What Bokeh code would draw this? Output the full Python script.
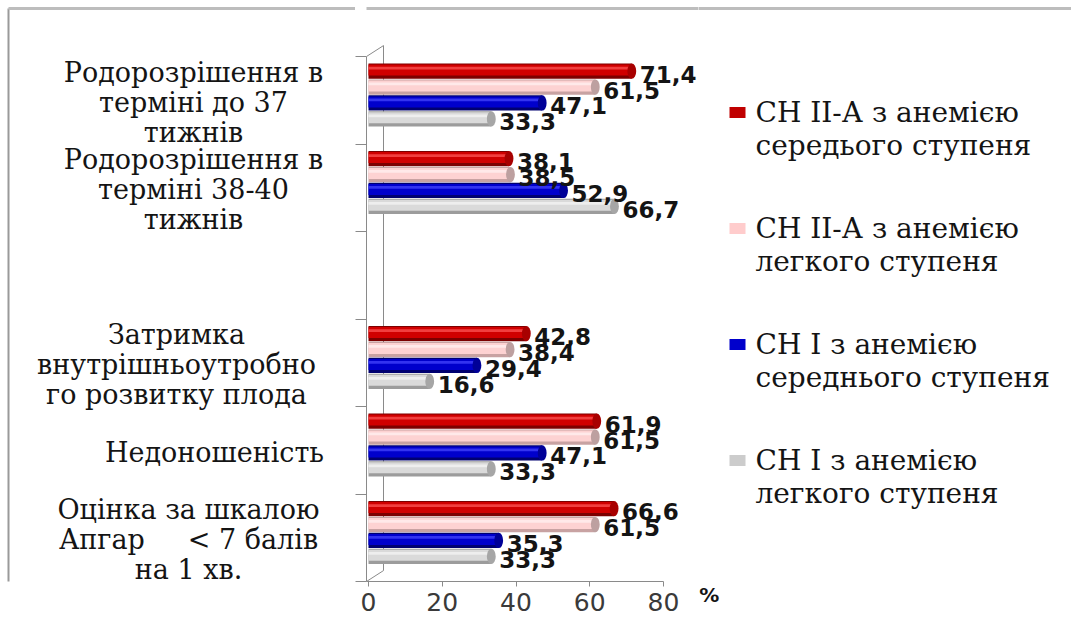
from bokeh.plotting import figure
from bokeh.layouts import row
from bokeh.models import Range1d, LinearAxis, FixedTicker, ColumnDataSource
from bokeh.embed import file_html
from bokeh.resources import INLINE
from bokeh.core.properties import value

# ---- data -------------------------------------------------------------
NBSP = "\u00a0"
categories = [
    "Родорозрішення в\nтерміні до 37\nтижнів",
    "Родорозрішення в\nтерміні 38-40\nтижнів",
    "",
    "Затримка\nвнутрішньоутробно\nго розвитку плода",
    "Недоношеність",
    "Оцінка за шкалою\nАпгар" + NBSP * 5 + "< 7 балів\nна 1 хв.",
]
series_names = [
    "СН ІІ-А з анемією\nсередього ступеня",
    "СН ІІ-А з анемією\nлегкого ступеня",
    "СН І з анемією\nсереднього ступеня",
    "СН І з анемією\nлегкого ступеня",
]
sn2a_moderate = [71.4, 38.1, None, 42.8, 61.9, 66.6]
sn2a_mild = [61.5, 38.5, None, 38.4, 61.5, 61.5]
sn1_moderate = [47.1, 52.9, None, 29.4, 47.1, 35.3]
sn1_mild = [33.3, 66.7, None, 16.6, 33.3, 33.3]
x_ticks = [0, 20, 40, 60, 80]
axis_unit = "%"

series = [sn2a_moderate, sn2a_mild, sn1_moderate, sn1_mild]

# ---- styling / layout --------------------------------------------------
palette = [
    dict(base="#7c0000", body="#d00000", light="#ff5a5a", cap="#a80000", swatch="#c00000"),
    dict(base="#c8a2a2", body="#fdd2d2", light="#fff2f2", cap="#bda0a0", swatch="#ffcccc"),
    dict(base="#000070", body="#0000cc", light="#4848ff", cap="#000098", swatch="#0000cc"),
    dict(base="#9c9c9c", body="#dadada", light="#f6f6f6", cap="#a6a6a6", swatch="#cccccc"),
]
W, H = 1071, 639
ZERO_PX = 368          # pixel column of 0 %
BASE_PX = 581          # pixel row of the category axis base
PX_X = 3.6875          # pixels per percent
PX_Y = 87.5            # pixels per category band
LEFT_W = 355           # width of the category-label panel
AXIS_PX = 366          # pixel column of the value-axis line
SPLIT_PX = 698         # where the chart panel ends and the legend panel starts
BOTTOM = H - BASE_PX
n_cat = len(categories)


def ux(px):
    """canvas pixel column -> percent units"""
    return (px - ZERO_PX) / PX_X


def uy(py):
    """canvas pixel row -> band units"""
    return (BASE_PX - py) / PX_Y


TXT = "#141414"
BORDER = "#bdbdbd"

offsets = [0.333, 0.151, -0.031, -0.213]
bar_h = 0.175
cap_w = 2.4


def panel(width, x_lo, x_hi, **kw):
    f = figure(width=width, height=H, output_backend="svg", toolbar_location=None,
               x_range=Range1d(x_lo, x_hi), y_range=Range1d(0, uy(0)),
               x_axis_location=None, y_axis_location=None,
               min_border_top=0, min_border_bottom=BOTTOM,
               background_fill_color="white", border_fill_color="white",
               outline_line_color=None, **kw)
    f.xgrid.grid_line_color = None
    f.ygrid.grid_line_color = None
    return f


# ---- chart panel -------------------------------------------------------
p = panel(SPLIT_PX - LEFT_W, ux(AXIS_PX), ux(SPLIT_PX),
          min_border_left=AXIS_PX - LEFT_W, min_border_right=0)

xaxis = LinearAxis(ticker=FixedTicker(ticks=x_ticks), bounds=(ux(AXIS_PX), x_ticks[-1]),
                   axis_line_color="#8a8a8a", major_tick_line_color="#8a8a8a",
                   major_tick_out=5, major_tick_in=0, minor_tick_line_color=None,
                   major_label_standoff=6, major_label_text_font="DejaVu Sans",
                   major_label_text_font_size="25px", major_label_text_color="#3a3a3a")
p.add_layout(xaxis, "below")
band_ticks = list(range(n_cat + 1))
yaxis = LinearAxis(ticker=FixedTicker(ticks=band_ticks), bounds=(0, n_cat),
                   axis_line_color="#8a8a8a", major_tick_line_color="#8a8a8a",
                   major_tick_out=11, major_tick_in=0, minor_tick_line_color=None,
                   major_label_standoff=0,
                   major_label_overrides={t: "" for t in band_ticks})
p.add_layout(yaxis, "left")

# top border of the picture
p.segment(x0=[ux(LEFT_W)], y0=[uy(8)], x1=[ux(W)], y1=[uy(8)],
          line_color=BORDER, line_width=3)

# back wall of the 3-D box
depth_x, depth_y = ux(383), 0.125
x_wall = ux(AXIS_PX)
wall = ColumnDataSource(dict(
    xa=[x_wall, depth_x, x_wall], ya=[n_cat, n_cat + depth_y, 0],
    xb=[depth_x, depth_x, depth_x], yb=[n_cat + depth_y, depth_y, depth_y]))
p.segment(x0="xa", y0="ya", x1="xb", y1="yb", source=wall, line_color="#8a8a8a", line_width=1)

# cylinder-like bars
sources = []
for s, (vals, col) in enumerate(zip(series, palette)):
    ys, vs = [], []
    for k, v in enumerate(vals):
        if v is None:
            continue
        ys.append(n_cat - k - 0.5 + offsets[s])
        vs.append(v)
    src = ColumnDataSource(dict(
        y=ys, v=vs,
        y_body=[y + bar_h * 0.07 for y in ys],
        y_light=[y + bar_h * 0.2 for y in ys],
        lbl=[f"{v:.1f}".replace(".", ",") for v in vs]))
    sources.append(src)
    p.hbar(y="y", left=0, right="v", height=bar_h, source=src,
           fill_color=col["base"], line_color=None)
    p.hbar(y="y_body", left=0, right="v", height=bar_h * 0.72, source=src,
           fill_color=col["body"], line_color=None)
    p.hbar(y="y_light", left=0, right="v", height=bar_h * 0.18, source=src,
           fill_color=col["light"], fill_alpha=0.7, line_color=None)
    p.ellipse(x="v", y="y", width=cap_w, height=bar_h, source=src,
              fill_color=col["cap"], line_color=None)

# value labels
for src in sources:
    p.text(x="v", y="y", text="lbl", source=src, x_offset=8, y_offset=3,
           text_font=value("DejaVu Sans"), text_font_style="bold",
           text_font_size="23px", text_baseline="middle", text_align="left",
           text_color=TXT)

# ---- category-label panel ----------------------------------------------
left = panel(LEFT_W, ux(0), ux(LEFT_W), min_border_left=0, min_border_right=0)
left.segment(x0=[ux(8), ux(8)], y0=[uy(8), uy(8)], x1=[ux(8), ux(LEFT_W + 20)], y1=[uy(H), uy(8)],
             line_color=["#9a9a9a", BORDER], line_width=[2, 3])

label_cx = [193, 193, 193, 176, 214, 188]
line_step = 30 / PX_Y
cat_x, cat_y, cat_t = [], [], []
for k, name in enumerate(categories):
    if not name:
        continue
    lines = name.split("\n")
    yc = n_cat - k - 0.5 - 2 / PX_Y
    for i, ln in enumerate(lines):
        cat_x.append(ux(label_cx[k]))
        cat_y.append(yc + (len(lines) - 1) / 2 * line_step - i * line_step)
        cat_t.append(ln)
left.text(x=cat_x, y=cat_y, text=cat_t, text_align="center", text_baseline="middle",
          text_font=value("DejaVu Serif"), text_font_size="27px", text_color=TXT)

# ---- legend panel --------------------------------------------------------
right = panel(W - SPLIT_PX, ux(SPLIT_PX), ux(W), min_border_left=0, min_border_right=0)
right.segment(x0=[ux(SPLIT_PX - 20)], y0=[uy(8)], x1=[ux(W)], y1=[uy(8)],
              line_color=BORDER, line_width=3)

# unit mark under the plot, as a one-tick axis
unit_tick = 92
unit_axis = LinearAxis(ticker=FixedTicker(ticks=[unit_tick]),
                       major_label_overrides={unit_tick: axis_unit},
                       axis_line_color=None, major_tick_line_color=None,
                       major_tick_out=0, major_tick_in=0, minor_tick_line_color=None,
                       major_label_standoff=1, major_label_text_font="DejaVu Sans",
                       major_label_text_font_style="bold", major_label_text_font_size="20px",
                       major_label_text_color=TXT)
right.add_layout(unit_axis, "below")

item_top, item_step, leg_line = 112, 116, 33
sw_x, sw_y, lg_x, lg_y, lg_t = [], [], [], [], []
for s, name in enumerate(series_names):
    y0 = item_top + s * item_step
    sw_x.append(ux(737))
    sw_y.append(uy(y0))
    for i, ln in enumerate(name.split("\n")):
        lg_x.append(ux(755))
        lg_y.append(uy(y0 + i * leg_line))
        lg_t.append(ln)
right.rect(x=sw_x, y=sw_y, width=16, height=11, width_units="screen", height_units="screen",
           fill_color=[c["swatch"] for c in palette], line_color=None)
right.text(x=lg_x, y=lg_y, text=lg_t, text_align="left", text_baseline="middle",
           text_font=value("DejaVu Serif"), text_font_size="28px", text_color=TXT)

layout = row(left, p, right, spacing=0)
open("out.html", "w").write(file_html(layout, INLINE))
